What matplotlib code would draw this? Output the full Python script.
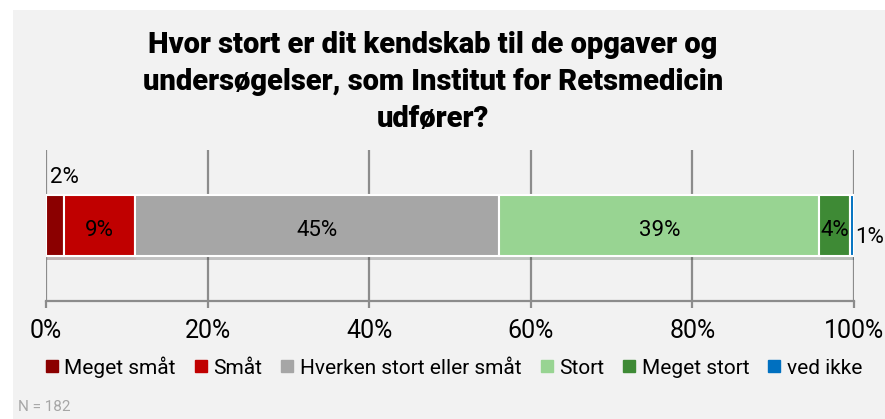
import matplotlib.pyplot as plt
import matplotlib.patheffects as pe
from matplotlib.patches import Rectangle
from matplotlib.lines import Line2D

# data
categories = ["Meget småt", "Småt", "Hverken stort eller småt", "Stort", "Meget stort", "ved ikke"]
values = [2.2, 8.8, 45.1, 39.6, 3.8, 0.5]
labels = ["2%", "9%", "45%", "39%", "4%", "1%"]
colors = ["#8b0000", "#c00000", "#a6a6a6", "#98d492", "#3e8a35", "#0070c0"]
ticks = [0, 20, 40, 60, 80, 100]
tick_labels = ["0%", "20%", "40%", "60%", "80%", "100%"]
title = "Hvor stort er dit kendskab til de opgaver og\nundersøgelser, som Institut for Retsmedicin\nudfører?"
note = "N = 182"

W, H = 885, 419
fig = plt.figure(figsize=(W / 100, H / 100), dpi=100, facecolor="white")
fig.patches.append(Rectangle((13 / W, 0), 1, 1 - 10 / H, transform=fig.transFigure,
                             facecolor="#f2f2f2", edgecolor="none", zorder=-10))

font = ["Roboto", "DejaVu Sans"]
gridc = "#8c8c8c"

ax = fig.add_axes([46 / W, 1 - 301 / H, 808 / W, 151 / H])
ax.set_facecolor("none")
ax.set_xlim(0, 100)
ax.set_ylim(-0.5, 0.5)

left = 0
for v, c in zip(values, colors):
    ax.barh(0, v, left=left, height=0.4, color=c, edgecolor="white", linewidth=1.5, zorder=3,
            path_effects=[pe.SimplePatchShadow(offset=(1, -3), alpha=0.25), pe.Normal()])
    left += v

# labels
left = 0
for i, (v, lab) in enumerate(zip(values, labels)):
    if i == 0:
        ax.text(left + 0.5, 0.32, lab, ha="left", va="center", fontsize=16, family=font, zorder=5)
    elif i == len(values) - 1:
        ax.text(left + v + 0.2, -0.08, lab, ha="left", va="center", fontsize=16, family=font,
                zorder=5, clip_on=False)
    else:
        ax.text(left + v / 2, -0.03, lab, ha="center", va="center", fontsize=16, family=font, zorder=5)
    left += v

ax.set_xticks(ticks)
ax.set_xticklabels(tick_labels, fontsize=18, family=font)
ax.set_yticks([])
ax.grid(axis="x", color=gridc, linewidth=1.6, zorder=0)
ax.tick_params(axis="x", length=5, width=1.6, color=gridc, pad=8)
for s in ["top", "right", "left"]:
    ax.spines[s].set_visible(False)
ax.spines["bottom"].set_color(gridc)
ax.spines["bottom"].set_linewidth(1.6)

fig.text(433 / W, 1 - 82 / H, title, ha="center", va="center", fontsize=21, fontweight="heavy",
         family=font, linespacing=1.4)

handles = [Line2D([], [], marker="s", linestyle="none", markersize=8, color=c) for c in colors]
fig.legend(handles, categories, loc="center", bbox_to_anchor=(454 / W, 1 - 367 / H), ncol=6,
           frameon=False, handlelength=0.6, handletextpad=0.3, columnspacing=0.9,
           prop={"family": font, "size": 15})

fig.text(18 / W, 1 - 407 / H, note, ha="left", va="center", fontsize=11, color="#a6a6a6",
         family=font)

fig.savefig("out.png", dpi=100, facecolor=fig.get_facecolor())
